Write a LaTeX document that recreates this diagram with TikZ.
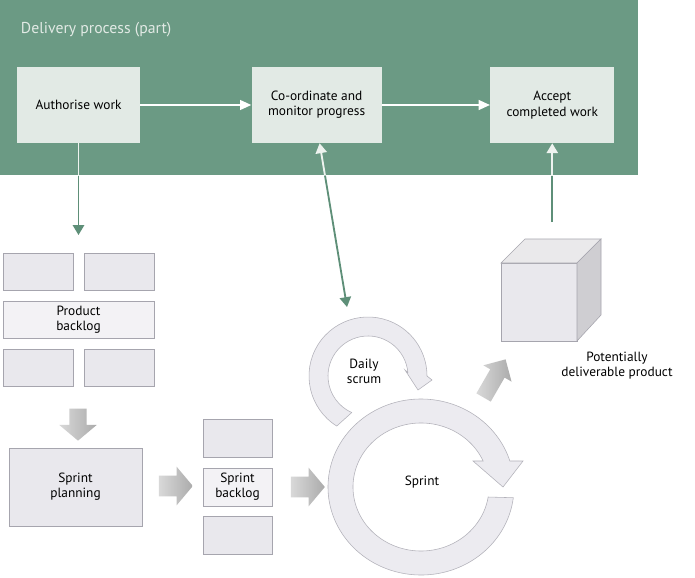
\documentclass[tikz,border=0pt]{standalone}
\usepackage{fontspec}
\setmainfont{PT Sans}
\usetikzlibrary{shapes.arrows,arrows.meta,positioning,calc}
\definecolor{DelivGreen}{HTML}{6B9A84}
\definecolor{DelivLine}{HTML}{5E8F78}
\definecolor{PaleGreen}{HTML}{E2EAE5}
\definecolor{CardFill}{HTML}{E9E8ED}
\definecolor{CardLine}{HTML}{A6A5AE}
\definecolor{RingLine}{HTML}{B3B2BA}

\begin{document}
\begin{tikzpicture}[x=0.025cm,y=0.025cm, every node/.style={font=\fontsize{9.5}{10.8}\selectfont,align=center},
  taskbox/.style={fill=PaleGreen,minimum width=3.1cm,minimum height=1.9cm},
  card/.style={draw=CardLine,fill=CardFill,minimum width=1.75cm,minimum height=0.93cm},
  flowline/.style={DelivLine,line width=1.3pt},
  bandline/.style={PaleGreen!60!white,line width=1.3pt},
  ring/.style={draw=RingLine,fill=CardFill!85!white},
  blockarrow/.style={single arrow,inner xsep=0pt,inner ysep=0.25cm,minimum height=0.85cm,single arrow head extend=0.225cm,single arrow tip angle=100,left color=gray!30,right color=gray!66}]
  \useasboundingbox (0,0) rectangle (695,-577);
  \fill[white] (0,0) rectangle (695,-577);
  % delivery process band
  \node[fill=DelivGreen,inner sep=0pt,minimum width=15.95cm,minimum height=4.375cm,anchor=north west] (band) at (0,0) {};
  \node[anchor=west,text=PaleGreen,font=\fontsize{11.2}{13}\selectfont] (title) at (16,-30) {Delivery process (part)};
  \node[taskbox,minimum width=3.075cm] (authorise) at (78.5,-105) {Authorise work};
  \node[taskbox,minimum width=3.25cm,right=2.775cm of authorise] (monitor) {Co-ordinate and\\monitor progress};
  \node[taskbox,right=2.7cm of monitor] (accept) {Accept\\completed work};
  \foreach \x/\y in {authorise/monitor,monitor/accept}{\draw[-{Triangle[width=7pt,length=8pt]},line width=1.1pt,white] (\x)--(\y);}
  % product backlog
  \node[card] (pb1) at (38,-271.5) {};
  \node[card] (pb2) at (119.5,-271.5) {};
  \node[card,fill=CardFill!55!white,minimum width=3.775cm] (pbacklog) at (78.5,-320) {Product\\backlog};
  \node[card] (pb3) at (38,-368) {};
  \node[card] (pb4) at (119.5,-368) {};
  \node[blockarrow,rotate=-90,minimum height=0.8cm,inner ysep=0.21cm,single arrow head extend=0.25cm] (toplan) at (78,-421) {};
  \node[card,minimum width=3.325cm,minimum height=1.95cm] (planning) at (75.5,-487) {Sprint\\planning};
  \node[blockarrow] (toback) at (171.5,-486) {};
  % sprint backlog
  \node[card,minimum width=1.725cm,minimum height=0.95cm] (sb1) at (237.5,-438) {};
  \node[card,fill=CardFill!55!white,minimum width=1.725cm,minimum height=0.95cm] (sbacklog) at (237.5,-487) {Sprint\\backlog};
  \node[card,minimum width=1.725cm,minimum height=0.95cm] (sb2) at (237.5,-535) {};
  \node[blockarrow] (tosprint) at (303.5,-487) {};
  % daily scrum and sprint cycles
  \begin{scope}[shift={(368,-376)}]
    \draw[ring] (238:59) arc[start angle=238,end angle=0,radius=59] -- (64,-4) -- (50,-14) -- (37,6) -- (5:40) arc[start angle=5,end angle=246,radius=40] -- cycle;
  \end{scope}
  \begin{scope}[shift={(421,-487)}]
    \draw[ring] (-7:93 and 88) arc[start angle=-7,end angle=-342.8,x radius=93,y radius=88] -- (102,26) -- (82,0) -- (52,26) -- (24:68 and 64) arc[start angle=24,end angle=351,x radius=68,y radius=64] -- cycle;
  \end{scope}
  \node (scrum) at (364,-371) {Daily\\scrum};
  \node (sprint) at (422,-482) {Sprint};
  \node[blockarrow,rotate=60,minimum height=1.1cm,inner ysep=0.2cm,single arrow head extend=0.2cm,single arrow tip angle=90] (toproduct) at (492.5,-382) {};
  % product increment
  \draw[CardLine,fill=CardFill] (501,-263) rectangle (577,-341);
  \draw[CardLine,fill=CardFill!70!gray!40!white] (501,-263) -- (525,-239) -- (601,-239) -- (577,-263) -- cycle;
  \draw[CardLine,fill=CardFill!75!gray] (577,-263) -- (601,-239) -- (601,-315) -- (577,-341) -- cycle;
  \node (product) at (617,-366) {Potentially\\deliverable product};
  % links to the delivery process
  \coordinate (pbentry) at (authorise.south |- 0,-235);
  \coordinate (mstart) at ([xshift=0.075cm]monitor.south);
  \coordinate (scrumentry) at (347,-307);
  \coordinate (cubetop) at (accept.south |- 0,-222);
  \coordinate (mcross) at (intersection of mstart--scrumentry and band.south west--band.south east);
  \draw[bandline] (authorise.south) -- (authorise.south |- band.south);
  \draw[flowline,-{Triangle[width=8pt,length=7pt]}] (authorise.south |- band.south) -- (pbentry);
  \draw[bandline,{Triangle[width=8pt,length=7pt]}-] (mstart) -- (mcross);
  \draw[flowline,-{Triangle[width=8pt,length=7pt]}] (mcross) -- (scrumentry);
  \draw[flowline] (cubetop) -- (accept.south |- band.south);
  \draw[bandline,-{Triangle[width=8pt,length=7pt]}] (accept.south |- band.south) -- (accept.south);
\end{tikzpicture}
\end{document}
